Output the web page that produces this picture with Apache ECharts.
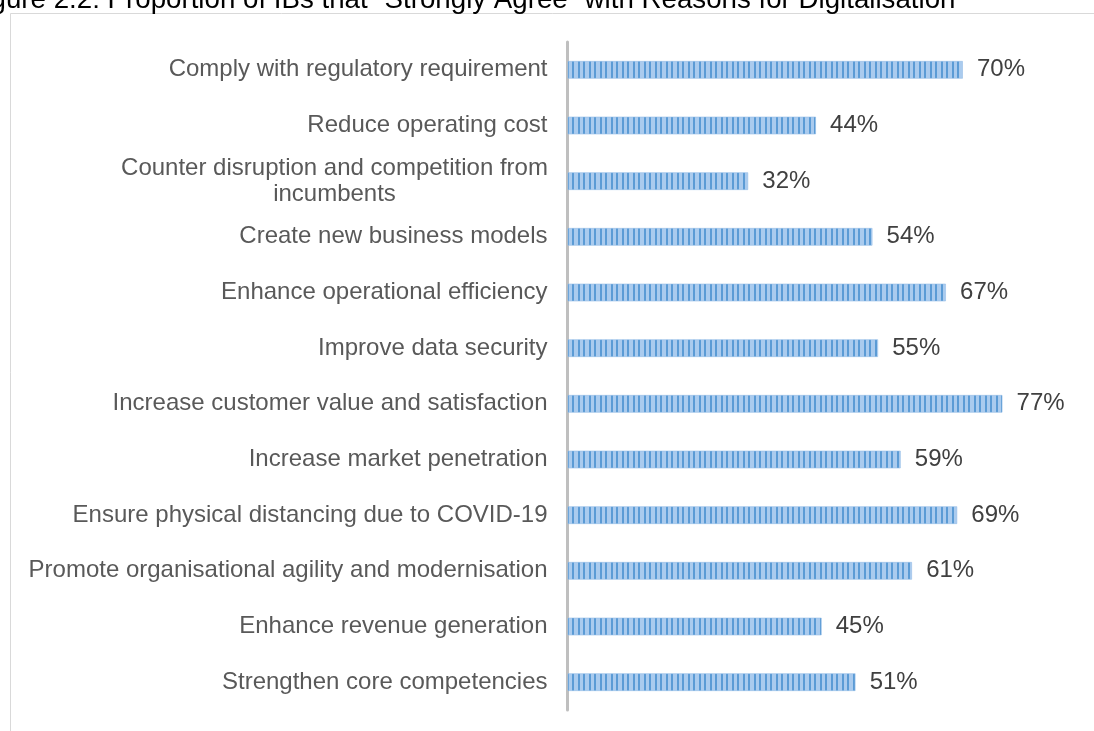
<!DOCTYPE html>
<html>
<head>
<meta charset="utf-8">
<script src="https://cdn.jsdelivr.net/npm/echarts@6/dist/echarts.min.js"></script>
<style>
html,body{margin:0;padding:0;background:#fff;}
#chart{width:1094px;height:731px;}
</style>
</head>
<body>
<div id="chart"></div>
<script>
var titleText = 'Figure 2.2: Proportion of IBs that \u201cStrongly Agree\u201d with Reasons for Digitalisation';
var categories = [
  'Comply with regulatory requirement',
  'Reduce operating cost',
  'Counter disruption and competition from\nincumbents',
  'Create new business models',
  'Enhance operational efficiency',
  'Improve data security',
  'Increase customer value and satisfaction',
  'Increase market penetration',
  'Ensure physical distancing due to COVID-19',
  'Promote organisational agility and modernisation',
  'Enhance revenue generation',
  'Strengthen core competencies'
];
var values = [70, 44, 32, 54, 67, 55, 77, 59, 69, 61, 45, 51];

// striped fill pattern
var pc = document.createElement('canvas');
pc.width = 11; pc.height = 2;
var pctx = pc.getContext('2d');
pctx.fillStyle = '#aacbee';
pctx.fillRect(0, 0, 11, 2);
pctx.fillStyle = '#5b9bd5';
pctx.fillRect(0, 0, 2, 2);
pctx.fillRect(6, 0, 2, 2);

var chart = echarts.init(document.getElementById('chart'), null, {renderer: 'canvas'});
var font = '"Liberation Sans", Arial, sans-serif';
chart.setOption({
  animation: false,
  backgroundColor: '#ffffff',
  title: {
    text: titleText,
    left: -37.5,
    top: -18.5,
    textStyle: {fontFamily: font, fontSize: 27.7, fontWeight: 'normal', color: '#000000'}
  },
  graphic: [{
    type: 'rect',
    shape: {x: 10.5, y: 13.5, width: 1100, height: 740},
    style: {fill: 'none', stroke: '#d9d9d9', lineWidth: 1},
    silent: true,
    z: -1
  }],
  grid: {left: 567.5, top: 42, width: 508.5, height: 668, containLabel: false},
  xAxis: {
    type: 'value', min: 0, max: 90, show: false
  },
  yAxis: {
    type: 'category',
    data: categories,
    inverse: true,
    axisLine: {show: true, lineStyle: {color: '#bfbfbf', width: 3}},
    axisTick: {show: false},
    splitLine: {show: false},
    axisLabel: {
      margin: 20,
      color: '#595959',
      fontFamily: font,
      fontSize: 24,
      lineHeight: 26,
      formatter: function (v) {
        if (v.indexOf('\n') >= 0) {
          return v.split('\n').map(function (s) { return '{c|' + s + '}'; }).join('\n');
        }
        return v;
      },
      rich: {
        c: {width: 426, align: 'center', color: '#595959', fontFamily: font, fontSize: 24, lineHeight: 26}
      }
    }
  },
  series: [{
    type: 'bar',
    data: values,
    barWidth: 18,
    itemStyle: {
      color: {image: pc, repeat: 'repeat'},
      borderColor: 'rgba(150,190,232,0.6)',
      borderWidth: 1
    },
    label: {
      show: true,
      position: 'right',
      distance: 14,
      formatter: '{c}%',
      color: '#404040',
      fontFamily: font,
      fontSize: 24
    }
  }]
});
</script>
</body>
</html>
